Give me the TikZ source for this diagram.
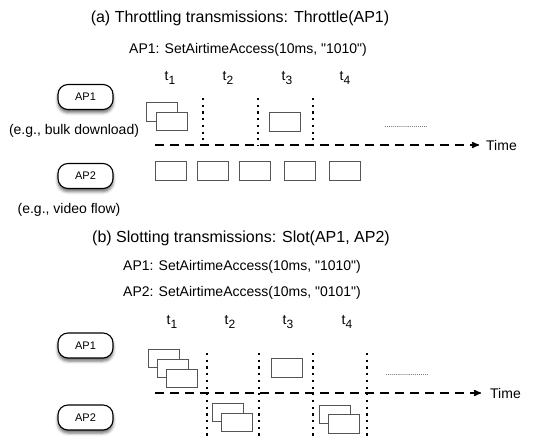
\documentclass[tikz,border=0pt]{standalone}
\usepackage{fontspec}
\setmainfont{Liberation Sans}[Ligatures=TeXOff]
\usetikzlibrary{arrows}
\usetikzlibrary{shadows.blur}
\definecolor{frameGray}{RGB}{85,85,85}

\begin{document}
\begin{tikzpicture}[>=stealth', x=1pt, y=-1pt,
      apbox/.style={draw, line width=1.1pt, rounded corners=10pt, fill=white,
                    minimum width=55pt, minimum height=25pt,
                    font=\fontsize{11}{13}\selectfont,
                    blur shadow={shadow xshift=0pt, shadow yshift=-3pt,
                                 shadow blur radius=3pt, shadow opacity=60}},
      pkt/.style={draw=frameGray, line width=0.9pt, fill=white,
                  minimum width=31pt, minimum height=18.5pt, inner sep=0pt},
      timeline/.style={line width=1.5pt, dash pattern=on 9pt off 6pt},
      slotline/.style={line width=1.4pt, dash pattern=on 2.2pt off 4.5pt},
      txt/.style={font=\fontsize{14}{16}\selectfont, inner sep=0pt}]
      \useasboundingbox (0,0) rectangle (548,439);

      % (a) throttling
      \node [txt, font=\fontsize{16}{18}\selectfont] (titlea) at (240,18)
            {(a) Throttling transmissions: Throttle(AP1)};
      \node [txt] (cmda) at (248,50) {AP1: SetAirtimeAccess(10ms, "1010")};
      \foreach \t/\x in {1/170, 2/228, 3/287, 4/345}
        \node [txt] (ta\t) at (\x,78) {t\raisebox{-0.55ex}{\fontsize{12}{12}\selectfont\t}};

      \node [apbox] (apa1) at (85.5,97) {AP1};
      \node [txt] (bulk) at (74,131) {(e.g., bulk download)};
      \node [apbox] (apa2) at (85.5,176) {AP2};
      \node [txt] (video) at (69,210) {(e.g., video flow)};

      \coordinate (tla) at (155,145);
      \node [txt, anchor=west] (timea) at (486,145) {Time};
      \draw [timeline, ->, shorten >=7pt] (tla) -- (timea.west);

      \foreach \x [count=\i] in {203, 258, 313}
        \draw [slotline] (\x,98) coordinate (sa\i) -- (\x,145);

      \node [pkt] (pa1) at (162,112) {};
      \node [pkt] (pa2) at (171.5,121.5) {};
      \node [pkt] (pa3) at (285,122) {};
      \node [txt, font=\fontsize{7}{8}\selectfont] (moreA) at (406,127)
            {......................};

      \foreach \x [count=\i] in {170.5, 212.5, 254.5, 299.5, 344.5}
        \node [pkt] (qa\i) at (\x,171) {};

      % (b) slotting
      \node [txt, font=\fontsize{16}{18}\selectfont] (titleb) at (241,238)
            {(b) Slotting transmissions: Slot(AP1, AP2)};
      \node [txt] (cmdb1) at (242,267) {AP1: SetAirtimeAccess(10ms, "1010")};
      \node [txt] (cmdb2) at (242,293) {AP2: SetAirtimeAccess(10ms, "0101")};
      \foreach \t/\x in {1/172, 2/230, 3/288, 4/347}
        \node [txt] (tb\t) at (\x,322) {t\raisebox{-0.55ex}{\fontsize{12}{12}\selectfont\t}};

      \node [apbox] (apb1) at (85.5,345.5) {AP1};
      \node [apbox] (apb2) at (85.5,417.5) {AP2};

      \foreach \x [count=\i] in {207, 259, 313, 367}
        \draw [slotline] (\x,353) coordinate (sb\i) -- (\x,439);

      \coordinate (tlb) at (155,393);
      \node [txt, anchor=west] (timeb) at (490,393) {Time};
      \draw [timeline, ->, shorten >=9pt] (tlb) -- (timeb.west);

      \node [pkt] (pb1) at (164,358.5) {};
      \node [pkt] (pb2) at (173,368.5) {};
      \node [pkt] (pb3) at (182,378.5) {};
      \node [pkt] (pb4) at (287,368) {};
      \node [txt, font=\fontsize{7}{8}\selectfont] (moreB) at (407,375)
            {......................};

      \node [pkt] (qb1) at (227.5,412.5) {};
      \node [pkt] (qb2) at (237,422.5) {};
      \node [pkt] (qb3) at (335,414.5) {};
      \node [pkt] (qb4) at (344,424) {};
\end{tikzpicture}
\end{document}
